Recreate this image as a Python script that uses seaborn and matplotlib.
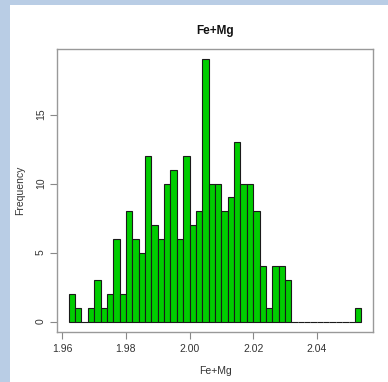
import numpy as np
import pandas as pd
import matplotlib
matplotlib.use("Agg")
import matplotlib.pyplot as plt
import seaborn as sns
from matplotlib.patches import Rectangle

# Data (bin width 0.002 starting at 1.962)
bin_start = 1.962
bin_width = 0.002
counts = [2, 1, 0, 1, 3, 1, 2, 6, 2, 8, 6, 5, 12, 7, 6, 10, 11, 6, 12, 7, 8,
          19, 10, 10, 8, 9, 13, 10, 10, 8, 4, 1, 4, 4, 3,
          0, 0, 0, 0, 0, 0, 0, 0, 0, 0, 1]
x_ticks = [1.96, 1.98, 2.00, 2.02, 2.04]
x_tick_labels = ["1.96", "1.98", "2.00", "2.02", "2.04"]
y_ticks = [0, 5, 10, 15]
title = "Fe+Mg"
x_label = "Fe+Mg"
y_label = "Frequency"

edges = [float(v) for v in bin_start + bin_width * np.arange(len(counts) + 1)]
centers = [(a + b) / 2 for a, b in zip(edges[:-1], edges[1:])]
df = pd.DataFrame({"value": centers, "count": counts})

sns.set_style("white")
plt.rcParams["font.family"] = ["Liberation Sans", "DejaVu Sans"]

fig = plt.figure(figsize=(3.88, 3.82), dpi=100)
ax = fig.add_axes([57 / 388, 1 - 332 / 382, (373 - 57) / 388, (332 - 49) / 382])

sns.histplot(data=df, x="value", weights="count", bins=edges, ax=ax,
             color="#00CD00", edgecolor="#1a1a1a", linewidth=0.8, alpha=1.0)

ax.set_xlim(1.95832, 2.05768)
ax.set_ylim(-0.76, 19.76)
ax.set_xticks(x_ticks)
ax.set_xticklabels(x_tick_labels)
ax.set_yticks(y_ticks)
ax.set_yticklabels([str(v) for v in y_ticks], rotation=90, va="center")
ax.tick_params(axis="both", direction="out", length=5, width=0.8,
               color="#888888", labelcolor="#333333", labelsize=7.5,
               bottom=True, left=True)
ax.tick_params(axis="x", pad=4)
ax.tick_params(axis="y", pad=3)
for s in ax.spines.values():
    s.set_color("#999999")
    s.set_linewidth(1.0)
    s.set_visible(True)

ax.set_xlabel("")
ax.set_ylabel("")
fig.text((57 + 373) / 2 / 388, 1 - 31 / 382, title, ha="center", va="center",
         fontsize=8.5, fontweight="bold", color="#111111")
fig.text((57 + 373) / 2 / 388, 1 - 371 / 382, x_label, ha="center", va="center",
         fontsize=7.5, color="#333333")
fig.text(20 / 388, 1 - 190 / 382, y_label, ha="center", va="center",
         rotation=90, fontsize=7.5, color="#333333")

# light blue frame strips (top and left)
fig.patches.append(Rectangle((0, 1 - 5 / 382), 1, 5 / 382, transform=fig.transFigure,
                             facecolor="#B9CDE5", edgecolor="none", zorder=0))
fig.patches.append(Rectangle((0, 0), 10 / 388, 1, transform=fig.transFigure,
                             facecolor="#B9CDE5", edgecolor="none", zorder=0))

fig.savefig("out.png", dpi=100)
